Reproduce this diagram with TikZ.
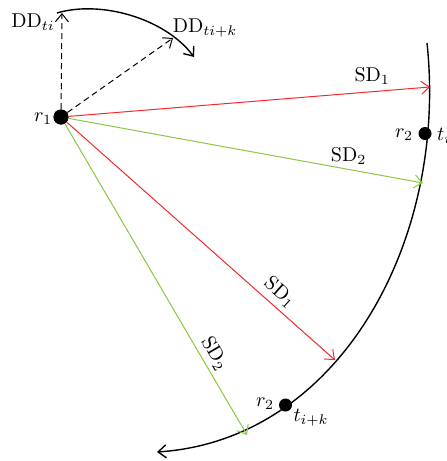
\documentclass[tikz,border=0pt]{standalone}
\usepackage{tikz}
\usetikzlibrary{arrows.meta}
\definecolor{sdred}{HTML}{F42A2A}
\definecolor{sdgreen}{HTML}{8CC63F}

\begin{document}
\begin{tikzpicture}[
  x=0.5pt, y=-0.5pt,
  font=\normalsize,
  dot/.style={circle, fill=black, inner sep=0pt, minimum size=6.5pt},
  bigdot/.style={dot, minimum size=7.5pt},
  tip/.style={-{Straight Barb[length=4pt,width=6.5pt]}},
  sdone/.style={tip, line width=0.5pt, draw=sdred},
  sdtwo/.style={tip, line width=0.5pt, draw=sdgreen},
  dd/.style={tip, line width=0.5pt, dash pattern=on 3pt off 2pt},
  track/.style={tip, line width=0.7pt},
  lbl/.style={inner sep=1pt},
]
\useasboundingbox (0,0) rectangle (446,461);
% robot positions
\node[bigdot] (r1) at (61,117) {};
\node[dot] (r2a) at (425,133.5) {};
\node[dot] (r2b) at (285.5,405) {};
\node[lbl] at (43,119) {$r_1$};
\node[lbl] at (404,135) {$r_2$};
\node[lbl] at (444,136) {$t_i$};
\node[lbl] at (265,404) {$r_2$};
\node[lbl] at (311,418) {$t_{i+k}$};
% ends of the arrows
\coordinate (arcT) at (427,43);
\coordinate (arcB) at (157,452);
\coordinate (ddT) at (57,13);
\coordinate (ddB) at (194,57);
\coordinate (sda) at (430,87);
\coordinate (sdb) at (423,183);
\coordinate (sdc) at (335,360);
\coordinate (sdd) at (247,435);
\coordinate (dda) at (62,13);
\coordinate (ddb) at (173,38);
% trajectory of r2 and heading of r1
\draw[track] (arcT) .. controls (448,240) and (340,440) .. (arcB);
\draw[track] (ddT) .. controls (100,0) and (165,18) .. (ddB);
\draw[dd] (r1) -- (dda);
\draw[dd] (r1) -- (ddb);
\node[lbl] at (33,22) {DD$_{ti}$};
\node[lbl] at (205,28) {DD$_{ti+k}$};
% sensed directions
\draw[sdone] (r1) -- node[pos=0.84, above] {SD$_1$} (sda);
\draw[sdtwo] (r1) -- node[pos=0.79, above, inner sep=2pt] {SD$_2$} (sdb);
\draw[sdone] (r1) -- node[pos=0.76, sloped, above, inner sep=2.5pt] {SD$_1$} (sdc);
\draw[sdtwo] (r1) -- node[pos=0.76, sloped, above, inner sep=2pt] {SD$_2$} (sdd);
\node[bigdot] at (r1) {};
\end{tikzpicture}
\end{document}
